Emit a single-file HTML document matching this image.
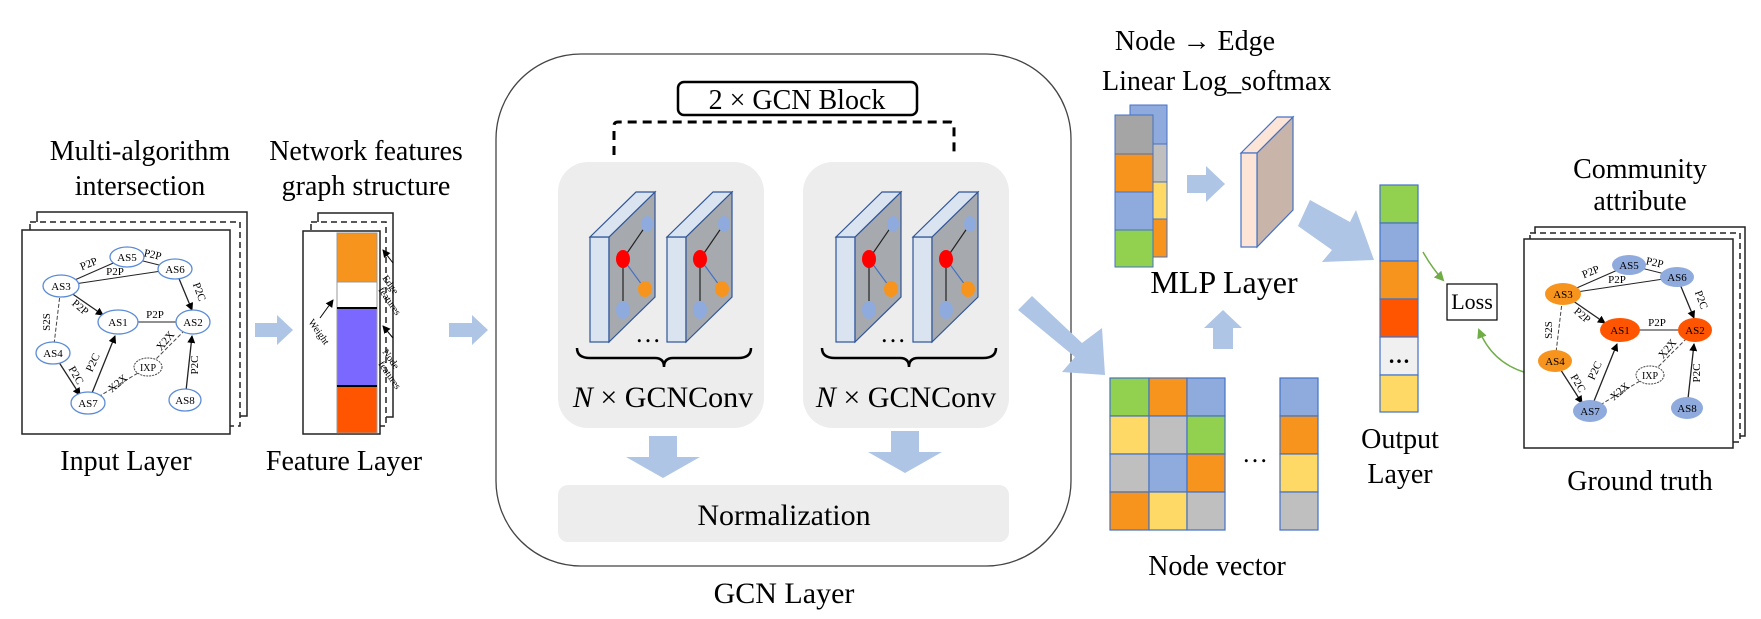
<!DOCTYPE html>
<html><head><meta charset="utf-8"><style>
html,body{margin:0;padding:0;background:#fff;}
svg{display:block;font-family:"Liberation Serif",serif;}
</style></head><body>
<svg width="1761" height="619" viewBox="0 0 1761 619" xmlns="http://www.w3.org/2000/svg">
<defs>
<marker id="ah" markerWidth="8" markerHeight="8" refX="7" refY="4" orient="auto" markerUnits="userSpaceOnUse"><path d="M0,0 L8,4 L0,8 z" fill="#000"/></marker>
<marker id="gh" markerWidth="10" markerHeight="10" refX="8" refY="5" orient="auto" markerUnits="userSpaceOnUse"><path d="M0,0 L10,5 L0,10 z" fill="#70ad47"/></marker>
<g id="panel">
<rect x="0" y="45" width="19" height="105" fill="#dae3f0" stroke="#2f5597" stroke-width="1.2"/>
<polygon points="19,45 65,0 65,105 19,150" fill="#a6a9ae" stroke="#2f5597" stroke-width="1.2"/>
<polygon points="0,45 19,45 65,0 46,0" fill="#dae3f0" stroke="#2f5597" stroke-width="1.2"/>
<line x1="33" y1="67" x2="57" y2="32" stroke="#222" stroke-width="1.2"/>
<line x1="33" y1="67" x2="55" y2="97" stroke="#4472c4" stroke-width="1.2"/>
<line x1="33" y1="67" x2="33" y2="118" stroke="#222" stroke-width="1.2"/>
<ellipse cx="33" cy="67" rx="7" ry="9" fill="#ff0000"/>
<ellipse cx="57" cy="32" rx="6" ry="8" fill="#8faadc"/>
<ellipse cx="55" cy="97" rx="7" ry="8" fill="#f7941d"/>
<ellipse cx="33" cy="118" rx="7" ry="9" fill="#8faadc"/>
</g>
</defs>

<text x="140" y="160" font-size="28" text-anchor="middle">Multi-algorithm</text>
<text x="140" y="195" font-size="28" text-anchor="middle">intersection</text>
<rect x="37" y="212" width="210" height="204" fill="#fff" stroke="#222" stroke-width="1.5"/>
<rect x="30" y="222" width="210" height="204" fill="#fff" stroke="#222" stroke-width="1.5" stroke-dasharray="6,4"/>
<rect x="22" y="230" width="208" height="204" fill="#fff" stroke="#222" stroke-width="1.5"/>
<text x="126" y="470" font-size="28" text-anchor="middle">Input Layer</text>

<g font-size="11">
<line x1="61" y1="286" x2="127" y2="257" stroke="#222"/>
<line x1="127" y1="257" x2="175" y2="269" stroke="#222"/>
<line x1="61" y1="286" x2="175" y2="269" stroke="#222"/>
<line x1="175" y1="269" x2="192" y2="310" stroke="#222" stroke-width="1.3" marker-end="url(#ah)"/>
<line x1="61" y1="286" x2="103" y2="315" stroke="#222" stroke-width="1.3" marker-end="url(#ah)"/>
<line x1="118" y1="322" x2="193" y2="322" stroke="#222"/>
<line x1="61" y1="286" x2="53" y2="353" stroke="#444" stroke-dasharray="4,2"/>
<line x1="53" y1="353" x2="80" y2="395" stroke="#222" stroke-width="1.3" marker-end="url(#ah)"/>
<line x1="88" y1="403" x2="115" y2="336" stroke="#222" stroke-width="1.3" marker-end="url(#ah)"/>
<line x1="88" y1="403" x2="148" y2="367" stroke="#444" stroke-dasharray="4,2"/>
<line x1="148" y1="367" x2="193" y2="322" stroke="#444" stroke-dasharray="4,2"/>
<line x1="185" y1="400" x2="192" y2="336" stroke="#222" stroke-width="1.3" marker-end="url(#ah)"/>
<g fill="#fff" stroke="#5b8bd6" stroke-width="1.3">
<ellipse cx="127" cy="257" rx="17" ry="10"/><ellipse cx="175" cy="269" rx="17" ry="10"/>
<ellipse cx="61" cy="286" rx="18" ry="11"/><ellipse cx="118" cy="322" rx="20" ry="12"/>
<ellipse cx="193" cy="322" rx="17" ry="12"/><ellipse cx="53" cy="353" rx="17" ry="11"/>
<ellipse cx="88" cy="403" rx="17" ry="11"/><ellipse cx="185" cy="400" rx="16" ry="11"/>
</g>
<ellipse cx="148" cy="367" rx="14" ry="9" fill="#fff" stroke="#444" stroke-dasharray="2,1"/>
<g text-anchor="middle">
<text x="127" y="261">AS5</text><text x="175" y="273">AS6</text><text x="61" y="290">AS3</text>
<text x="118" y="326">AS1</text><text x="193" y="326">AS2</text><text x="53" y="357">AS4</text>
<text x="88" y="407">AS7</text><text x="185" y="404">AS8</text><text x="148" y="371" font-size="10">IXP</text>
<text x="90" y="267" transform="rotate(-22 90 267)">P2P</text>
<text x="152" y="258" transform="rotate(12 152 258)">P2P</text>
<text x="115" y="275">P2P</text>
<text x="196" y="293" transform="rotate(70 196 293)">P2C</text>
<text x="78" y="310" transform="rotate(40 78 310)">P2P</text>
<text x="155" y="318">P2P</text>
<text x="50" y="322" transform="rotate(-90 50 322)">S2S</text>
<text x="73" y="377" transform="rotate(60 73 377)">P2C</text>
<text x="96" y="364" transform="rotate(-65 96 364)">P2C</text>
<text x="120" y="386" transform="rotate(-40 120 386)">X2X</text>
<text x="168" y="343" transform="rotate(-50 168 343)">X2X</text>
<text x="198" y="365" transform="rotate(-90 198 365)">P2C</text>
</g>
</g>

<polygon points="255,323 277,323 277,315 293,330 277,345 277,337 255,337" fill="#aec5e6"/>

<text x="366" y="160" font-size="28" text-anchor="middle">Network features</text>
<text x="366" y="195" font-size="28" text-anchor="middle">graph structure</text>
<rect x="318" y="213" width="75" height="204" fill="#fff" stroke="#222" stroke-width="1.5"/>
<rect x="311" y="222" width="75" height="204" fill="#fff" stroke="#222" stroke-width="1.5" stroke-dasharray="6,4"/>
<rect x="303" y="231" width="77" height="203" fill="#fff" stroke="#222" stroke-width="1.5"/>
<rect x="337" y="233" width="40" height="49" fill="#f7941d" stroke="#999"/>
<rect x="337" y="282" width="40" height="26" fill="#fff" stroke="#999"/>
<rect x="337" y="308" width="40" height="78" fill="#7b68ff" stroke="#999"/>
<rect x="337" y="386" width="40" height="47" fill="#ff5500" stroke="#999"/>
<line x1="337" y1="308" x2="377" y2="308" stroke="#000" stroke-width="2"/>
<line x1="337" y1="386" x2="377" y2="386" stroke="#000" stroke-width="2"/>
<line x1="393" y1="263" x2="383" y2="250" stroke="#000" marker-end="url(#ah)"/>
<line x1="393" y1="338" x2="383" y2="326" stroke="#000" marker-end="url(#ah)"/>
<line x1="320" y1="318" x2="333" y2="300" stroke="#000" marker-end="url(#ah)"/>
<g font-size="10">
<text x="382" y="278" transform="rotate(55 382 278)">Edge</text>
<text x="378" y="290" transform="rotate(55 378 290)">features</text>
<text x="382" y="352" transform="rotate(55 382 352)">Node</text>
<text x="378" y="364" transform="rotate(55 378 364)">features</text>
<text x="308" y="322" transform="rotate(55 308 322)">Weight</text>
</g>
<text x="344" y="470" font-size="28" text-anchor="middle">Feature Layer</text>

<polygon points="449,323 472,323 472,315 488,330 472,345 472,337 449,337" fill="#aec5e6"/>

<rect x="496" y="54" width="575" height="512" rx="85" ry="85" fill="#fff" stroke="#444" stroke-width="1.3"/>
<rect x="678" y="82" width="239" height="33" rx="6" fill="#fff" stroke="#000" stroke-width="2.5"/>
<text x="797" y="109" font-size="28" text-anchor="middle">2 × GCN Block</text>
<path d="M614,155 L614,126 Q614,122 618,122 L950,122 Q954,122 954,126 L954,155" fill="none" stroke="#000" stroke-width="3" stroke-dasharray="9,6"/>
<rect x="558" y="162" width="206" height="266" rx="30" fill="#ededed"/>
<rect x="803" y="162" width="206" height="266" rx="30" fill="#ededed"/>
<use href="#panel" x="590" y="192"/>
<use href="#panel" x="667" y="192"/>
<use href="#panel" x="836" y="192"/>
<use href="#panel" x="913" y="192"/>
<text x="648" y="342" font-size="26" text-anchor="middle">…</text>
<text x="893" y="342" font-size="26" text-anchor="middle">…</text>
<path d="M577,348 Q577,358 590,358 L655,358 Q664,358 664,367 Q664,358 673,358 L738,358 Q751,358 751,348" fill="none" stroke="#000" stroke-width="2.5"/>
<path d="M822,348 Q822,358 835,358 L900,358 Q909,358 909,367 Q909,358 918,358 L983,358 Q996,358 996,348" fill="none" stroke="#000" stroke-width="2.5"/>
<text x="663" y="407" font-size="30" text-anchor="middle"><tspan font-style="italic">N</tspan> × GCNConv</text>
<text x="906" y="407" font-size="30" text-anchor="middle"><tspan font-style="italic">N</tspan> × GCNConv</text>
<polygon points="649,436 677,436 677,457 700,457 663,478 626,457 649,457" fill="#aec5e6"/>
<polygon points="891,431 919,431 919,452 942,452 905,473 868,452 891,452" fill="#aec5e6"/>
<rect x="558" y="485" width="451" height="57" rx="10" fill="#ededed"/>
<text x="784" y="525" font-size="30" text-anchor="middle">Normalization</text>
<text x="784" y="603" font-size="30" text-anchor="middle">GCN Layer</text>

<polygon points="1032,296 1082,343 1102,328 1105,375 1062,372 1075,357 1018,310" fill="#aec5e6"/>

<text x="1195" y="50" font-size="28" text-anchor="middle">Node → Edge</text>
<text x="1102" y="90" font-size="28">Linear  Log_softmax</text>
<rect x="1130" y="105" width="37" height="39" fill="#8faadc" stroke="#4472c4"/>
<rect x="1130" y="144" width="37" height="38" fill="#bfbfbf" stroke="#4472c4"/>
<rect x="1130" y="182" width="37" height="37" fill="#ffd966" stroke="#4472c4"/>
<rect x="1130" y="219" width="37" height="38" fill="#f7941d" stroke="#4472c4"/>
<rect x="1115" y="115" width="38" height="39" fill="#a5a5a5" stroke="#4472c4"/>
<rect x="1115" y="154" width="38" height="38" fill="#f7941d" stroke="#4472c4"/>
<rect x="1115" y="192" width="38" height="38" fill="#8faadc" stroke="#4472c4"/>
<rect x="1115" y="230" width="38" height="37" fill="#92d050" stroke="#4472c4"/>
<polygon points="1187,175 1206,175 1206,166 1225,184 1206,202 1206,193 1187,193" fill="#aec5e6"/>
<polygon points="1257,153 1293,117 1293,210 1257,247" fill="#c8b4a8" stroke="#4472c4" stroke-width="1.2"/>
<polygon points="1241,153 1257,153 1293,117 1277,117" fill="#fce4d6" stroke="#4472c4" stroke-width="1.2"/>
<rect x="1241" y="153" width="16" height="94" fill="#fce4d6" stroke="#4472c4" stroke-width="1.2"/>
<text x="1224" y="293" font-size="32" text-anchor="middle">MLP Layer</text>
<polygon points="1223,310 1242,328 1233,328 1233,349 1213,349 1213,328 1204,328" fill="#aec5e6"/>

<g stroke="#4472c4" stroke-width="1.2">
<rect x="1110" y="378" width="39" height="38" fill="#92d050"/><rect x="1149" y="378" width="38" height="38" fill="#f7941d"/><rect x="1187" y="378" width="38" height="38" fill="#8faadc"/>
<rect x="1110" y="416" width="39" height="38" fill="#ffd966"/><rect x="1149" y="416" width="38" height="38" fill="#bfbfbf"/><rect x="1187" y="416" width="38" height="38" fill="#92d050"/>
<rect x="1110" y="454" width="39" height="38" fill="#bfbfbf"/><rect x="1149" y="454" width="38" height="38" fill="#8faadc"/><rect x="1187" y="454" width="38" height="38" fill="#f7941d"/>
<rect x="1110" y="492" width="39" height="38" fill="#f7941d"/><rect x="1149" y="492" width="38" height="38" fill="#ffd966"/><rect x="1187" y="492" width="38" height="38" fill="#bfbfbf"/>
<rect x="1280" y="378" width="38" height="38" fill="#8faadc"/><rect x="1280" y="416" width="38" height="38" fill="#f7941d"/>
<rect x="1280" y="454" width="38" height="38" fill="#ffd966"/><rect x="1280" y="492" width="38" height="38" fill="#bfbfbf"/>
</g>
<text x="1255" y="462" font-size="26" text-anchor="middle">…</text>
<text x="1217" y="575" font-size="28" text-anchor="middle">Node vector</text>

<polygon points="1310,200 1350,222 1356,210 1374,260 1322,262 1332,250 1298,226" fill="#aec5e6"/>

<g stroke="#4472c4" stroke-width="1.2">
<rect x="1380" y="185" width="38" height="38" fill="#92d050"/>
<rect x="1380" y="223" width="38" height="38" fill="#8faadc"/>
<rect x="1380" y="261" width="38" height="38" fill="#f7941d"/>
<rect x="1380" y="299" width="38" height="38" fill="#ff5500"/>
<rect x="1380" y="337" width="38" height="38" fill="#f0f0f0"/>
<rect x="1380" y="375" width="38" height="37" fill="#ffd966"/>
</g>
<text x="1399" y="363" font-size="22" font-weight="bold" text-anchor="middle">…</text>
<text x="1400" y="448" font-size="28" text-anchor="middle">Output</text>
<text x="1400" y="483" font-size="28" text-anchor="middle">Layer</text>

<rect x="1447" y="284" width="50" height="36" fill="#fff" stroke="#000" stroke-width="1.2"/>
<text x="1472" y="309" font-size="22" text-anchor="middle">Loss</text>
<path d="M1423,252 Q1432,268 1443,280" fill="none" stroke="#70ad47" stroke-width="1.5" marker-end="url(#gh)"/>
<path d="M1542,376 Q1495,370 1479,330" fill="none" stroke="#70ad47" stroke-width="1.5" marker-end="url(#gh)"/>

<text x="1640" y="178" font-size="28" text-anchor="middle">Community</text>
<text x="1640" y="210" font-size="28" text-anchor="middle">attribute</text>
<rect x="1535" y="227" width="210" height="209" fill="#fff" stroke="#222" stroke-width="1.5"/>
<rect x="1530" y="233" width="210" height="209" fill="#fff" stroke="#222" stroke-width="1.5" stroke-dasharray="6,4"/>
<rect x="1524" y="239" width="209" height="209" fill="#fff" stroke="#222" stroke-width="1.5"/>
<text x="1640" y="490" font-size="28" text-anchor="middle">Ground truth</text>

<g transform="translate(1502,8)" font-size="11">
<line x1="61" y1="286" x2="127" y2="257" stroke="#222"/>
<line x1="127" y1="257" x2="175" y2="269" stroke="#222"/>
<line x1="61" y1="286" x2="175" y2="269" stroke="#222"/>
<line x1="175" y1="269" x2="192" y2="310" stroke="#222" stroke-width="1.3" marker-end="url(#ah)"/>
<line x1="61" y1="286" x2="103" y2="315" stroke="#222" stroke-width="1.3" marker-end="url(#ah)"/>
<line x1="118" y1="322" x2="193" y2="322" stroke="#222"/>
<line x1="61" y1="286" x2="53" y2="353" stroke="#444" stroke-dasharray="4,2"/>
<line x1="53" y1="353" x2="80" y2="395" stroke="#222" stroke-width="1.3" marker-end="url(#ah)"/>
<line x1="88" y1="403" x2="115" y2="336" stroke="#222" stroke-width="1.3" marker-end="url(#ah)"/>
<line x1="88" y1="403" x2="148" y2="367" stroke="#444" stroke-dasharray="4,2"/>
<line x1="148" y1="367" x2="193" y2="322" stroke="#444" stroke-dasharray="4,2"/>
<line x1="185" y1="400" x2="192" y2="336" stroke="#222" stroke-width="1.3" marker-end="url(#ah)"/>
<ellipse cx="127" cy="257" rx="17" ry="10" fill="#8faadc"/><ellipse cx="175" cy="269" rx="17" ry="10" fill="#8faadc"/>
<ellipse cx="61" cy="286" rx="18" ry="11" fill="#f7941d"/><ellipse cx="118" cy="322" rx="20" ry="12" fill="#ff5500"/>
<ellipse cx="193" cy="322" rx="17" ry="12" fill="#ff5500"/><ellipse cx="53" cy="353" rx="17" ry="11" fill="#f7941d"/>
<ellipse cx="88" cy="403" rx="17" ry="11" fill="#8faadc"/><ellipse cx="185" cy="400" rx="16" ry="11" fill="#8faadc"/>
<ellipse cx="148" cy="367" rx="14" ry="9" fill="#fff" stroke="#444" stroke-dasharray="2,1"/>
<g text-anchor="middle">
<text x="127" y="261">AS5</text><text x="175" y="273">AS6</text><text x="61" y="290">AS3</text>
<text x="118" y="326">AS1</text><text x="193" y="326">AS2</text><text x="53" y="357">AS4</text>
<text x="88" y="407">AS7</text><text x="185" y="404">AS8</text><text x="148" y="371" font-size="10">IXP</text>
<text x="90" y="267" transform="rotate(-22 90 267)">P2P</text>
<text x="152" y="258" transform="rotate(12 152 258)">P2P</text>
<text x="115" y="275">P2P</text>
<text x="196" y="293" transform="rotate(70 196 293)">P2C</text>
<text x="78" y="310" transform="rotate(40 78 310)">P2P</text>
<text x="155" y="318">P2P</text>
<text x="50" y="322" transform="rotate(-90 50 322)">S2S</text>
<text x="73" y="377" transform="rotate(60 73 377)">P2C</text>
<text x="96" y="364" transform="rotate(-65 96 364)">P2C</text>
<text x="120" y="386" transform="rotate(-40 120 386)">X2X</text>
<text x="168" y="343" transform="rotate(-50 168 343)">X2X</text>
<text x="198" y="365" transform="rotate(-90 198 365)">P2C</text>
</g>
</g>
</svg>
</body></html>
